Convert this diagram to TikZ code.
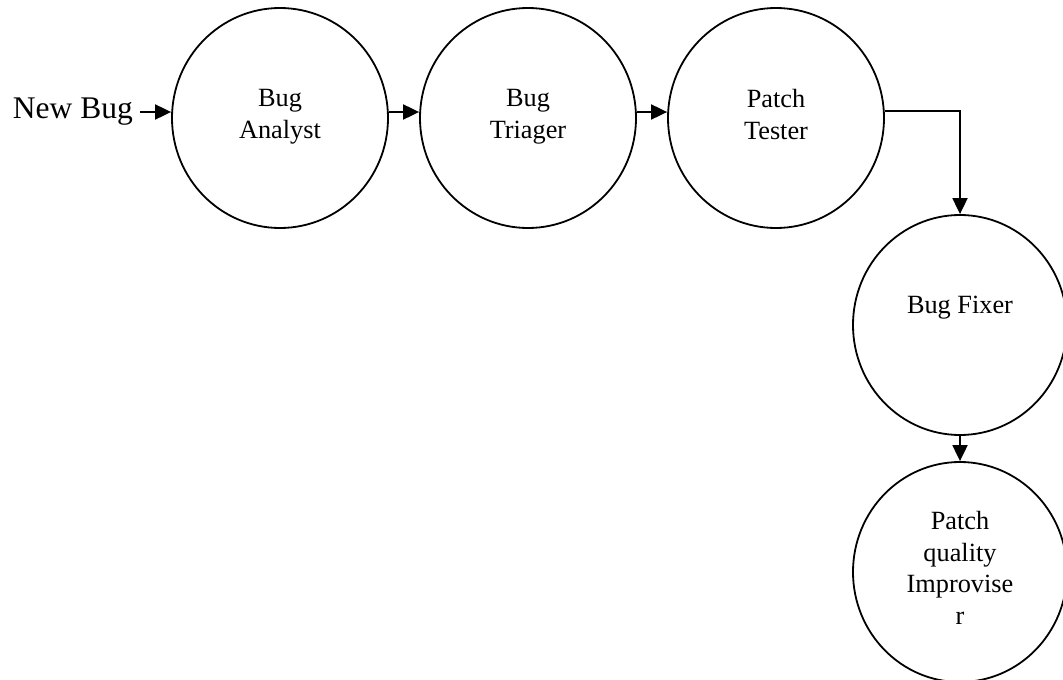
\documentclass[tikz,border=0pt]{standalone}
\usepackage{fontspec}
\setmainfont{Liberation Serif}
\usetikzlibrary{arrows.meta,shapes.geometric}

\tikzset{
  agent/.style={draw, ellipse, line width=1.8pt, minimum width=216pt, minimum height=220pt, inner sep=0pt},
  agenttext/.style={align=center, anchor=north, font=\fontsize{26.3}{31.6}\selectfont, inner sep=0pt},
  flow/.style={line width=1.9pt, -{Triangle[length=16pt,width=15pt]}},
}

\begin{document}
\begin{tikzpicture}[x=1pt, y=-1pt]
  \useasboundingbox (0,0) rectangle (1063,680);

  % agents
  \node[agent] (ana) at (280,118) {};
  \node[agent] (tri) at (528,118) {};
  \node[agent] (tes) at (776,118) {};
  \node[agent, minimum width=214pt] (fix) at (960,325) {};
  \node[agent, minimum width=214pt] (imp) at (960,572) {};

  % labels, hung from the top of their first line
  \node[agenttext] (anaT) at (280,89) {Bug\\Analyst};
  \node[agenttext] (triT) at (528,89) {Bug\\Triager};
  \node[agenttext] (tesT) at (776,89) {Patch\\Tester};
  \node[agenttext] (fixT) at (960,296) {Bug Fixer};
  \node[agenttext] (impT) at (960,511) {Patch\\quality\\Improvise\\r};

  \node[font=\fontsize{31.5}{37}\selectfont, anchor=east, inner sep=0pt] (new) at (133,112) {New Bug};

  % connectors
  \draw[flow] (new.east) ++(7,0) coordinate (newR) -- (newR -| ana.west);
  \draw[flow] ([yshift=6pt]ana.east) -- ([yshift=6pt]tri.west);
  \draw[flow] ([yshift=6pt]tri.east) -- ([yshift=6pt]tes.west);
  \draw[flow] ([yshift=7pt]tes.east) -| (fix.north);
  \draw[flow] (fix.south) -- (imp.north);
\end{tikzpicture}
\end{document}
